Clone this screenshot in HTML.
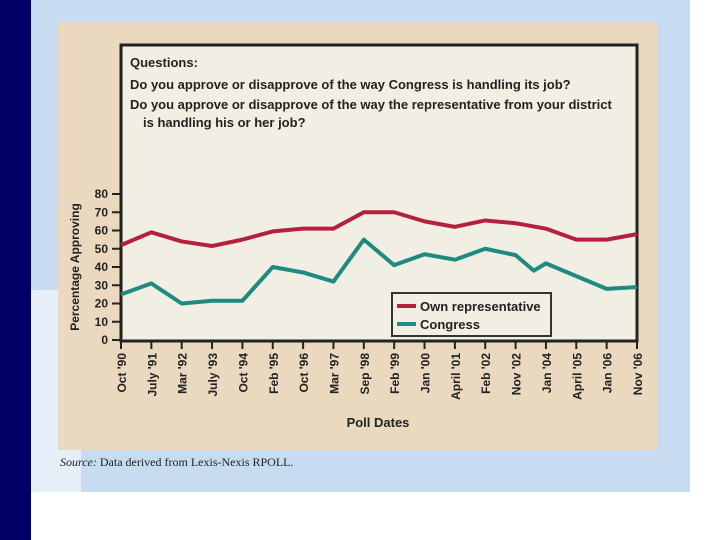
<!DOCTYPE html>
<html><head><meta charset="utf-8"><style>
body{margin:0;width:720px;height:540px;overflow:hidden;background:#fff;position:relative;font-family:"Liberation Sans",sans-serif}
</style></head><body>
<div style="position:absolute;left:0;top:0;width:31px;height:540px;background:#000066"></div>
<div style="position:absolute;left:31px;top:0;width:659px;height:492px;background:#c7dcf0"></div>
<div style="position:absolute;left:31px;top:290px;width:50px;height:202px;background:#e6eff8"></div>
<svg width="720" height="540" style="position:absolute;left:0;top:0" id="c" font-family="Liberation Sans, sans-serif">
<rect x="58" y="22" width="599" height="428" fill="#ead9bf"/>
<rect x="121" y="45" width="516" height="296" fill="#f1eee4" stroke="#222" stroke-width="3"/>
<g font-weight="bold" font-size="13" fill="#222">
<text x="130" y="67">Questions:</text>
<text x="130" y="89">Do you approve or disapprove of the way Congress is handling its job?</text>
<text x="130" y="109">Do you approve or disapprove of the way the representative from your district</text>
<text x="143" y="127">is handling his or her job?</text>
</g>
<g id="ax"></g>
<text transform="translate(79,267) rotate(-90)" text-anchor="middle" font-size="12" font-weight="bold" fill="#222">Percentage Approving</text>
<text x="378" y="427" text-anchor="middle" font-size="13" font-weight="bold" fill="#222">Poll Dates</text>
<g>
<rect x="392" y="293" width="159" height="43" fill="#f1eee4" stroke="#333" stroke-width="2"/>
<line x1="397" y1="306" x2="416" y2="306" stroke="#b5213d" stroke-width="4"/>
<text x="420" y="311" font-size="13" font-weight="bold" fill="#222">Own representative</text>
<line x1="397" y1="324" x2="416" y2="324" stroke="#1e8a80" stroke-width="4"/>
<text x="420" y="329" font-size="13" font-weight="bold" fill="#222">Congress</text>
</g>
</svg>
<div style="position:absolute;left:60px;top:455px;font-family:'Liberation Serif',serif;font-size:12px;color:#222"><i>Source:</i> Data derived from Lexis-Nexis RPOLL.</div>
<script>
const categories=["Oct '90","July '91","Mar '92","July '93","Oct '94","Feb '95","Oct '96","Mar '97","Sep '98","Feb '99","Jan '00","April '01","Feb '02","Nov '02","Jan '04","April '05","Jan '06","Nov '06"];
const yTicks=[0,10,20,30,40,50,60,70,80];
const ownIdx=[0,1,2,3,4,5,6,7,8,9,10,11,12,13,14,15,16,17];
const ownVals=[52,59,54,51.5,55,59.5,61,61,70,70,65,62,65.5,64,61,55,55,58];
const congIdx=[0,1,2,3,4,5,6,7,8,9,10,11,12,13,13.6,14,15,16,17];
const congVals=[25,31,20,21.5,21.5,40,37,32,55,41,47,44,50,46.5,38,42,35,28,29];
const NS="http://www.w3.org/2000/svg";
const x=i=>121+i*(516/(categories.length-1));
const y=v=>340-v*(146/80);
const g=document.getElementById('ax');
function mk(t,a){const e=document.createElementNS(NS,t);for(const k in a)e.setAttribute(k,a[k]);g.appendChild(e);return e;}
yTicks.forEach(v=>{
 const l=mk('line',{x1:112,x2:121,y1:y(v),y2:y(v),stroke:'#222','stroke-width':2});
 
 
 const t=mk('text',{x:108,y:y(v)+4,'text-anchor':'end','font-size':12,'font-weight':'bold',fill:'#222'});
 t.textContent=v;
 
 
});
categories.forEach((c,i)=>{
 const l=mk('line',{x1:x(i),x2:x(i),y1:340,y2:349,stroke:'#222','stroke-width':2});
 
 
 const t=mk('text',{transform:`translate(${x(i)+5},353) rotate(-90)`,'text-anchor':'end','font-size':12,'font-weight':'bold',fill:'#222'});
 t.textContent=c;
 
 
});
function line(idx,vals,col,name){
 const p=mk('polyline',{points:idx.map((i,k)=>x(i)+','+y(vals[k])).join(' '),fill:'none',stroke:col,'stroke-width':4,'stroke-linejoin':'round'});
 
 
}
line(ownIdx,ownVals,'#b5213d','own-representative-line');
line(congIdx,congVals,'#1e8a80','congress-line');
</script>
</body></html>
